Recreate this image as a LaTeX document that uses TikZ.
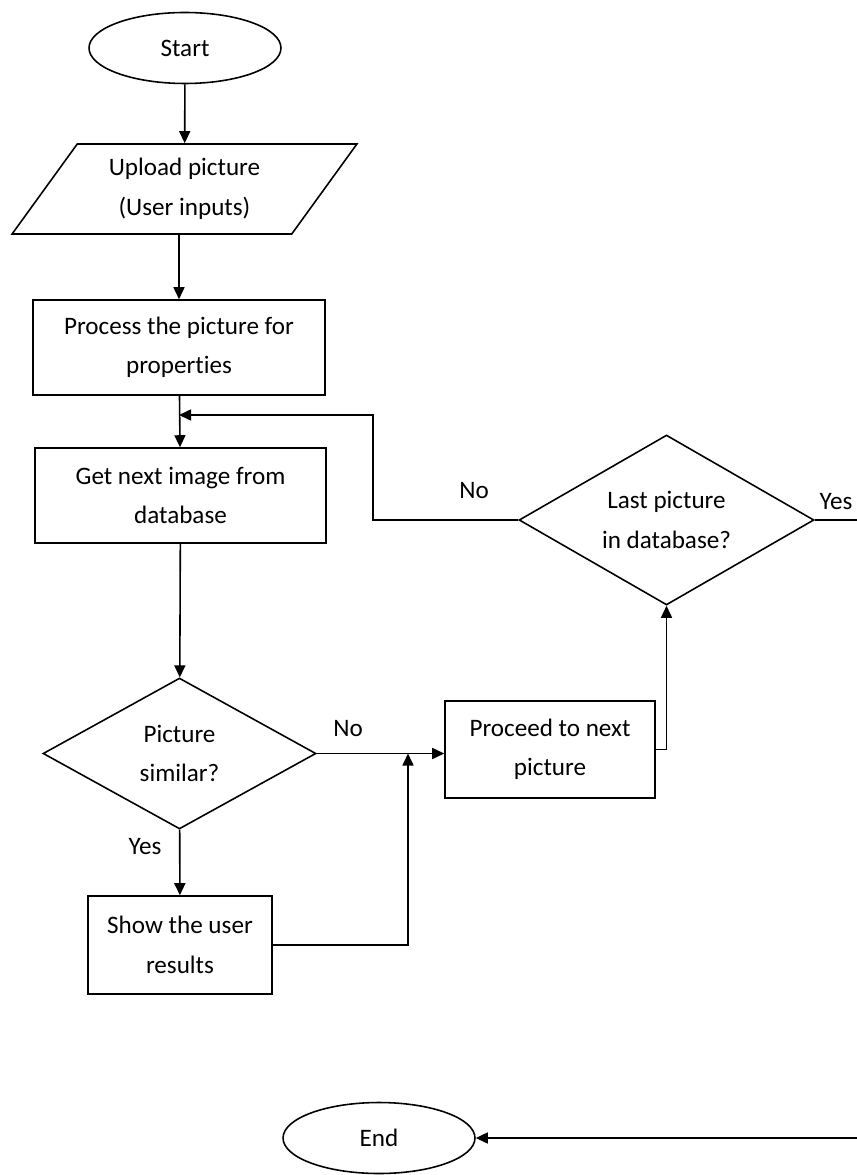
\documentclass[tikz,border=0pt]{standalone}
\usepackage{fontspec}
\setmainfont{Carlito}[Ligatures=NoCommon]
\usetikzlibrary{shapes.geometric,arrows.meta}
\begin{document}
\begin{tikzpicture}[x=0.02cm,y=-0.02cm,font=\fontsize{14.3}{22.5}\selectfont,line width=0.9pt,
  term/.style={ellipse,draw,minimum width=3.84cm,minimum height=1.42cm,inner sep=0pt},
  io/.style={trapezium,draw,trapezium left angle=53,trapezium right angle=127,trapezium stretches=true,minimum width=6.9cm,minimum height=1.8cm,align=center,inner sep=0pt},
  proc/.style={rectangle,draw,align=center,inner sep=0pt},
  dec/.style={diamond,draw,align=center,inner sep=0pt},
  arr/.style={-{Triangle[length=2.4mm,width=2.2mm]}}]
\useasboundingbox (0,0) rectangle (857,1175);
\node[term] (start) at (185,48) {Start};
\node[io] (upload) at (184.5,189) {Upload picture\\(User inputs)};
\node[proc,minimum width=5.84cm,minimum height=1.9cm] (process) at (179,347.5) {Process the picture for\\properties};
\node[proc,minimum width=5.82cm,minimum height=1.9cm] (getnext) at (180.5,495.5) {Get next image from\\database};
\node[dec,aspect=1.81,minimum width=5.46cm,minimum height=3.02cm] (similar) at (179.5,753.5) {Picture\\similar?};
\node[dec,aspect=1.74,minimum width=5.9cm,minimum height=3.4cm] (last) at (666.5,520) {Last picture\\in database?};
\node[proc,minimum width=4.2cm,minimum height=1.94cm] (proceed) at (550,749.5) {Proceed to next\\picture};
\node[proc,minimum width=3.68cm,minimum height=1.96cm] (show) at (180,945) {Show the user\\results};
\node[term] (end) at (379,1138) {End};
\coordinate (join) at (179,415); \coordinate (loopcorner) at (373,415); \coordinate (merge) at (408,753.5);
\coordinate (yesout) at (857,520); \coordinate (endin) at (857,1138);
\draw[arr] (start) -- (upload);
\draw[arr] (upload.south -| process) -- (process);
\draw[arr] (process) -- (getnext);
\draw[arr] (last.west) -| (loopcorner) -- (join); \node (nolast) at (474,491) {No};
\draw[arr] (getnext) -- (similar);
\draw[arr] (similar.east) -- (similar.east -| proceed.west); \node (nosim) at (348,729) {No};
\draw[arr] (similar) -- (show); \node (yessim) at (145,847) {Yes};
\draw[arr] (show.east) -| (merge);
\draw[arr] (proceed.east) -| (last.south);
\draw (last.east) -- (yesout); \node (yeslast) at (836,502) {Yes};
\draw[arr] (endin) -- (end);
\end{tikzpicture}
\end{document}
